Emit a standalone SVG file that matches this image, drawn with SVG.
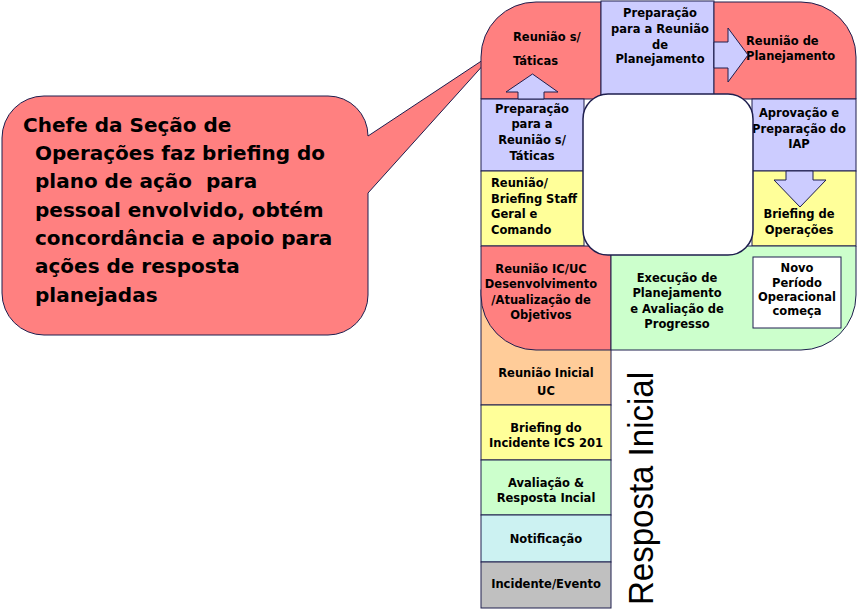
<svg xmlns="http://www.w3.org/2000/svg" width="859" height="610" viewBox="0 0 859 610">
<style>
.s{stroke:#1e1e4e;stroke-width:1}
.red{fill:#FF8080}.lav{fill:#CCCCFF}.yel{fill:#FFFF99}.grn{fill:#CCFFCC}.pch{fill:#FFCC99}.cyn{fill:#CCF2F2}.gry{fill:#C0C0C0}.wht{fill:#FFFFFF}
text{font-family:"DejaVu Sans","Liberation Sans",sans-serif;font-weight:bold;font-size:11.5px;fill:#000}
.c{text-anchor:middle}
.call{font-size:20px;white-space:pre}
.vert{font-family:"Liberation Sans",Arial,sans-serif;font-weight:normal;font-size:35px}
</style>
<rect width="859" height="610" fill="#fff"/>

<g id="callout">
<path class="s red" d="M44,96 H328 A40,40 0 0 1 368,136 L495,52 L368,193 V295 A40,40 0 0 1 328,335 H44 A42,42 0 0 1 2,293 V138 A42,42 0 0 1 44,96 Z"/>
<text class="call" x="23" y="132">Chefe da Seção de</text>
<text class="call" x="35" y="160">Operações faz briefing do</text>
<text class="call" x="35" y="188">plano de ação  para</text>
<text class="call" x="35" y="217">pessoal envolvido, obtém</text>
<text class="call" x="35" y="245">concordância e apoio para</text>
<text class="call" x="35" y="273">ações de resposta</text>
<text class="call" x="35" y="302">planejadas</text>
</g>

<g id="reuniao-inicial-uc">
<rect class="s pch" x="481" y="290" width="130" height="115"/>
<text class="c" x="546" y="377">Reunião Inicial</text>
<text class="c" x="546" y="395">UC</text>
</g>
<g id="briefing-ics201">
<rect class="s yel" x="481" y="405" width="130" height="55"/>
<text class="c" x="546" y="432">Briefing do</text>
<text class="c" x="546" y="447">Incidente ICS 201</text>
</g>
<g id="avaliacao">
<rect class="s grn" x="481" y="460" width="130" height="55"/>
<text class="c" x="546" y="487">Avaliação &amp;</text>
<text class="c" x="546" y="502">Resposta Incial</text>
</g>
<g id="notificacao">
<rect class="s cyn" x="481" y="515" width="130" height="47"/>
<text class="c" x="546" y="543">Notificação</text>
</g>
<g id="incidente">
<rect class="s gry" x="481" y="562" width="130" height="46"/>
<text class="c" x="546" y="588">Incidente/Evento</text>
</g>

<g id="reuniao-taticas">
<path class="s red" d="M481,99 V57 A55,55 0 0 1 536,2 H601 V99 Z"/>
<text x="513" y="41">Reunião s/</text>
<text x="513" y="65">Táticas</text>
</g>
<g id="prep-planejamento">
<rect class="s lav" x="601" y="1" width="113" height="94"/>
<text class="c" x="660" y="17">Preparação</text>
<text class="c" x="660" y="33">para a Reunião</text>
<text class="c" x="660" y="49">de</text>
<text class="c" x="660" y="63">Planejamento</text>
</g>
<g id="reuniao-planejamento">
<path class="s red" d="M714,2 H801 A55,55 0 0 1 856,57 V99 H714 Z"/>
<text x="746" y="45">Reunião de</text>
<text x="746" y="60">Planejamento</text>
</g>
<g id="aprovacao-iap">
<rect class="s lav" x="752" y="99" width="104" height="72"/>
<text class="c" x="799" y="117">Aprovação e</text>
<text class="c" x="799" y="133">Preparação do</text>
<text class="c" x="799" y="148">IAP</text>
</g>
<g id="briefing-operacoes">
<rect class="s yel" x="752" y="171" width="104" height="75"/>
<text class="c" x="799" y="218">Briefing de</text>
<text class="c" x="799" y="234">Operações</text>
</g>
<g id="prep-taticas">
<rect class="s lav" x="481" y="99" width="103" height="72"/>
<text class="c" x="532" y="113">Preparação</text>
<text class="c" x="532" y="128">para a</text>
<text class="c" x="532" y="144">Reunião  s/</text>
<text class="c" x="532" y="160">Táticas</text>
</g>
<g id="briefing-staff">
<rect class="s yel" x="481" y="171" width="103" height="75"/>
<text x="491" y="187">Reunião/</text>
<text x="491" y="203">Briefing Staff</text>
<text x="491" y="218">Geral e</text>
<text x="491" y="234">Comando</text>
</g>
<g id="reuniao-icuc">
<path class="s red" d="M481,246 H611 V350 H536 A55,55 0 0 1 481,295 Z"/>
<text class="c" x="541" y="273">Reunião IC/UC</text>
<text class="c" x="541" y="288">Desenvolvimento</text>
<text class="c" x="541" y="304">/Atualização de</text>
<text class="c" x="541" y="319">Objetivos</text>
</g>
<g id="execucao">
<path class="s grn" d="M611,246 H856 V295 A55,55 0 0 1 801,350 H611 Z"/>
<text class="c" x="677" y="282">Execução de</text>
<text class="c" x="677" y="297">Planejamento</text>
<text class="c" x="677" y="313">e Avaliação de</text>
<text class="c" x="677" y="328">Progresso</text>
</g>
<g id="centro">
<rect x="583" y="94" width="170" height="161" rx="25" fill="#fff" stroke="#1e1e4e" stroke-width="1.5"/>
</g>
<g id="novo-periodo">
<rect class="s wht" x="753" y="257" width="88" height="71"/>
<text class="c" x="797" y="272">Novo</text>
<text class="c" x="797" y="287">Período</text>
<text class="c" x="797" y="301">Operacional</text>
<text class="c" x="797" y="315">começa</text>
</g>

<g id="connectors">
<polygon class="s lav" points="714,42 728,42 728,28 748,55 728,82 728,68 714,68"/>
<polygon class="s lav" points="518,99 518,92 506,92 532.5,74 558,92 544,92 544,99"/>
<polygon class="s lav" points="786,171 786,180 774,180 800,207 826,180 813,180 813,171"/>
</g>

<g id="resposta-inicial">
<text class="vert" transform="translate(653,605) rotate(-90)" textLength="233" lengthAdjust="spacingAndGlyphs">Resposta Inicial</text>
</g>
</svg>
